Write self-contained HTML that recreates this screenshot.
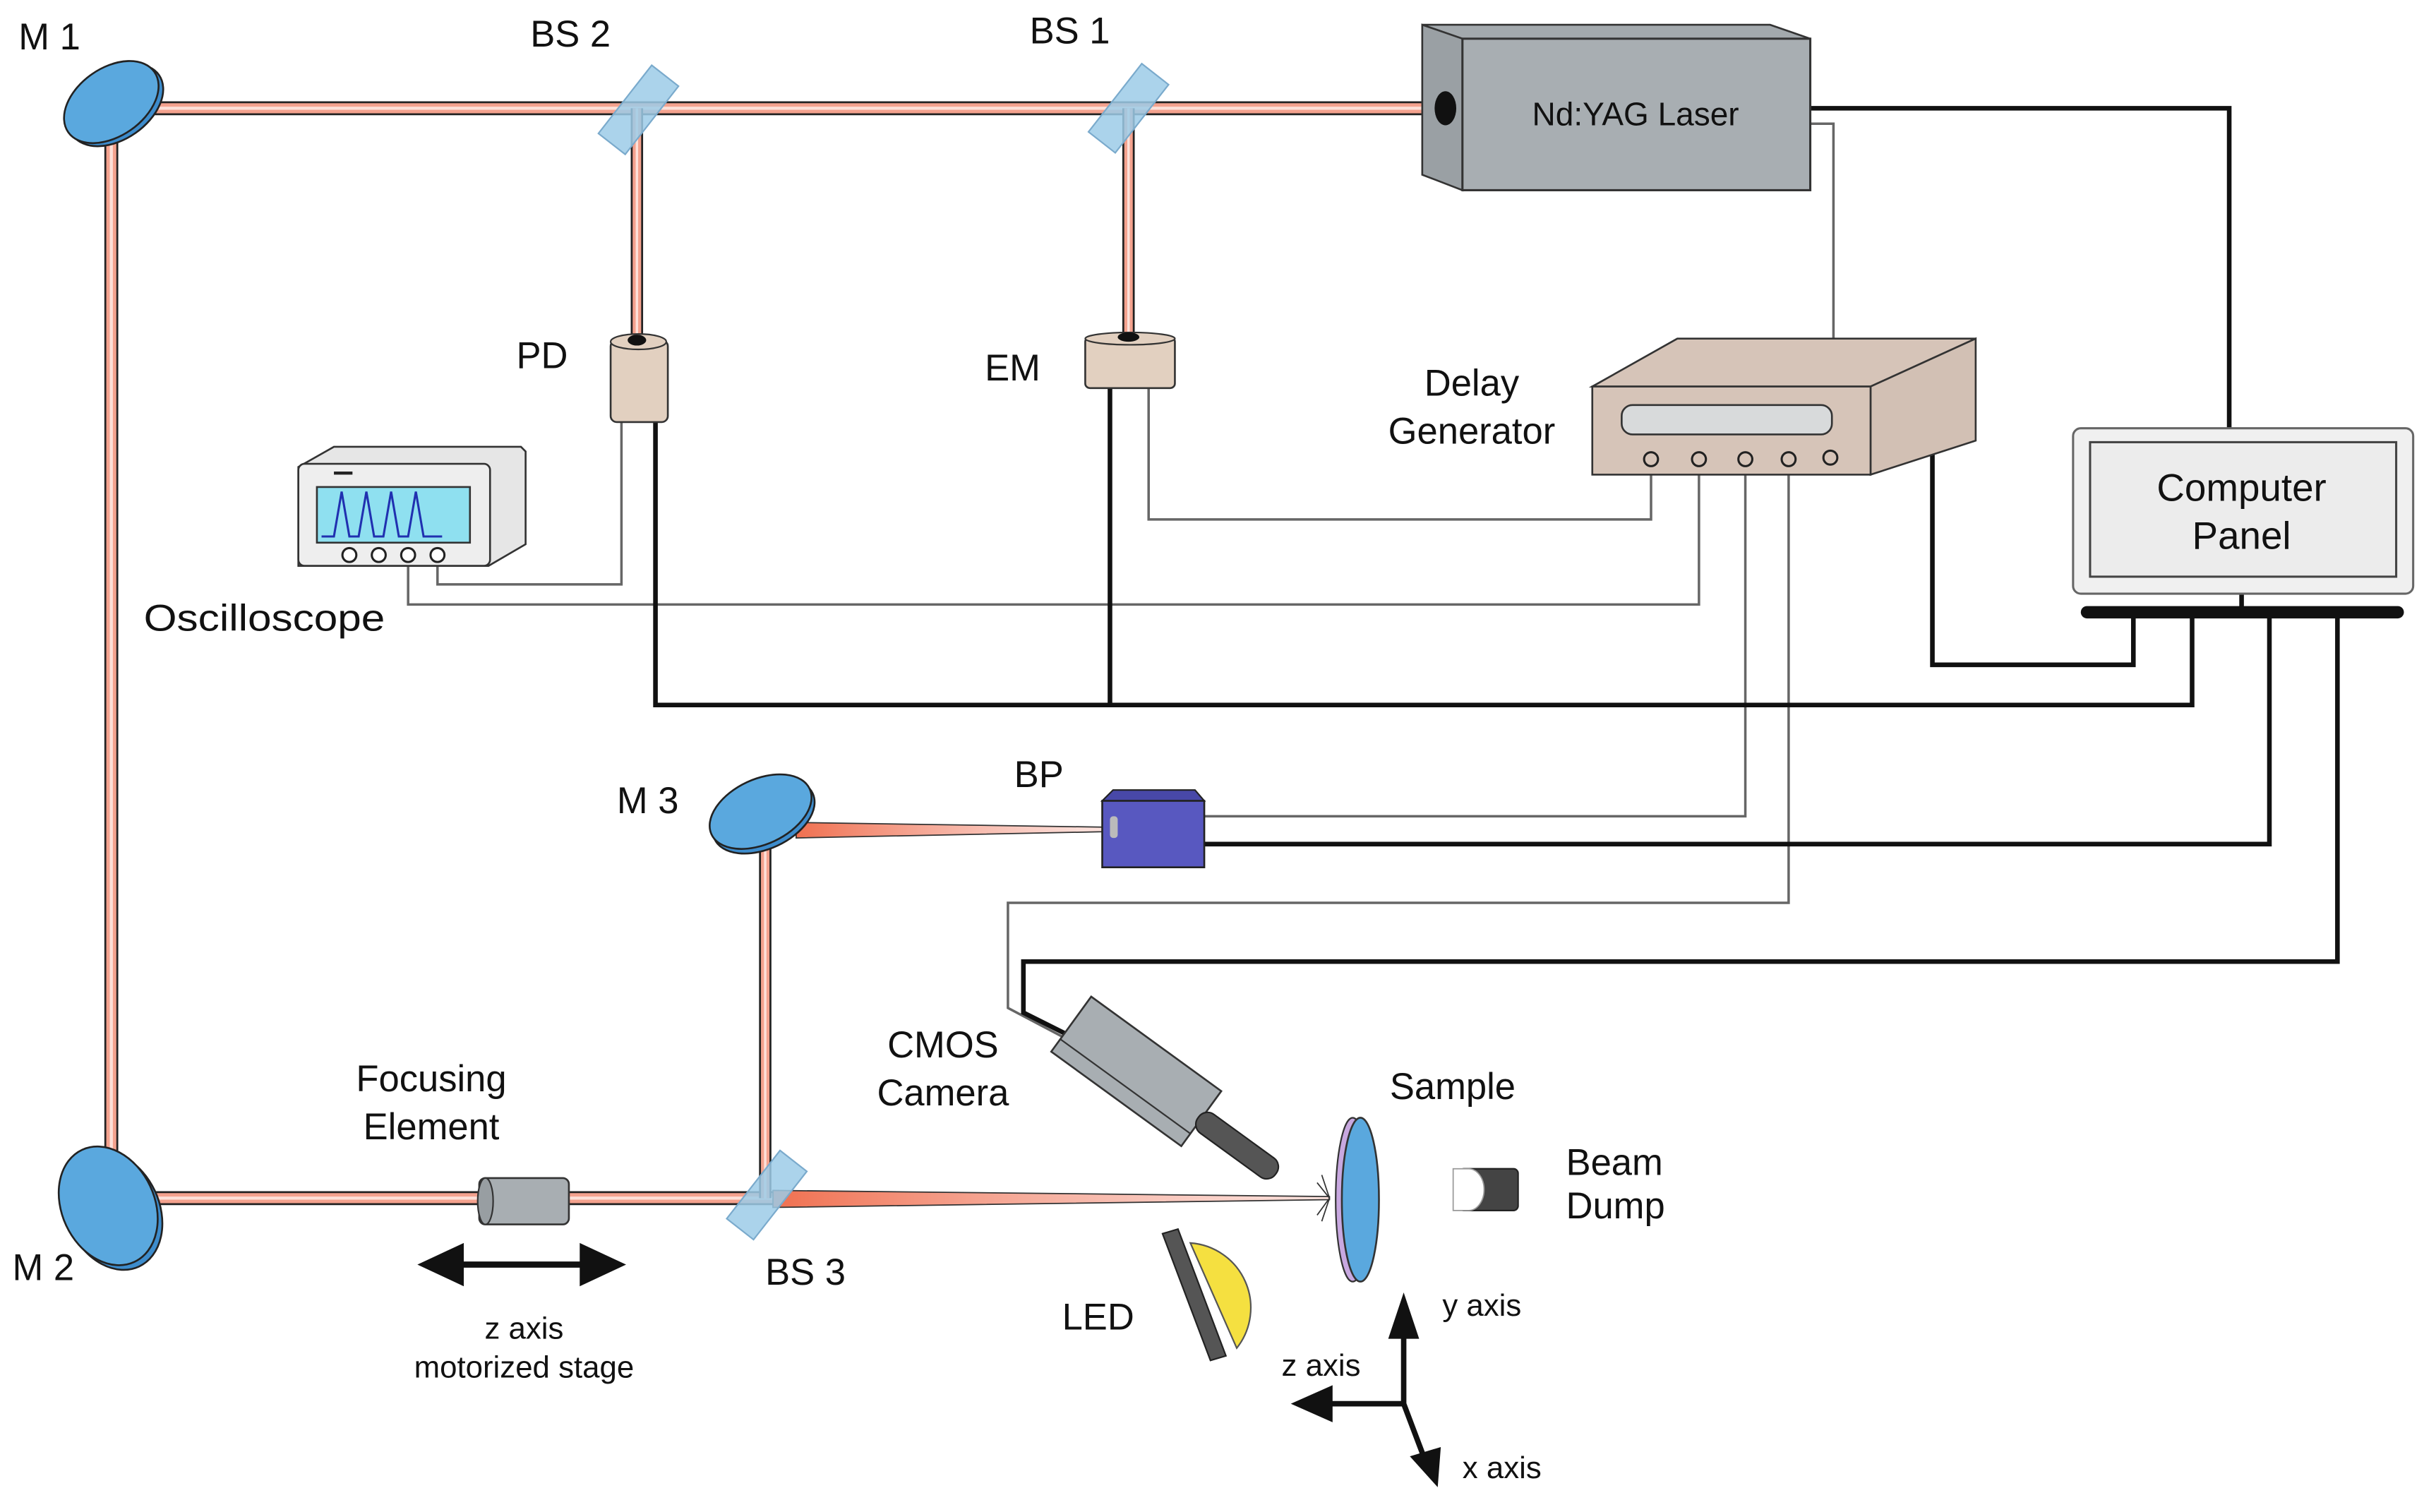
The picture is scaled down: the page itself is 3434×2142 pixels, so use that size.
<!DOCTYPE html>
<html><head><meta charset="utf-8"><style>
html,body{margin:0;padding:0;background:#fff;}
svg{display:block;}
text{font-family:"Liberation Sans",Arial,sans-serif;fill:#111;}
</style></head><body>
<svg width="3434" height="2142" viewBox="0 0 1568 978" xmlns="http://www.w3.org/2000/svg">
<defs>
<linearGradient id="taper" x1="0" x2="1"><stop offset="0" stop-color="#f07050"/><stop offset="1" stop-color="#f4a090" stop-opacity="0.3"/></linearGradient>
</defs>
<g fill="none" stroke="#666" stroke-width="1.6">
<path d="M1171 80 H1186 V297"/>
<path d="M743 250 V336 H1068 V297"/>
<path d="M283 366 V378 H402 V273"/>
<path d="M264 366 V391 H1099 V297"/>
<path d="M1129 297 V528 H779"/>
<path d="M1157 297 V584 H652 V652 L690 672"/>
</g>
<g fill="none" stroke="#111" stroke-width="3">
<path d="M1171 70 H1442 V277"/>
<path d="M1250 288 V430 H1380 V396"/>
<path d="M424 273 V456 H1418 V396"/>
<path d="M718 250 V456"/>
<path d="M779 546 H1468 V396"/>
<path d="M1512 396 V622 H662 V655 L692 670"/>
<path d="M1450 384 V396"/>
</g>
<g fill="none" stroke-linejoin="miter">
<path d="M930 70 H72 V775 H500" stroke="#222" stroke-width="9"/>
<path d="M930 70 H72 V775 H500" stroke="#f4a28e" stroke-width="6.5"/>
<path d="M930 70 H72 V775 H500" stroke="#fde0d8" stroke-width="2"/>
<path d="M412 70 V218 M730 70 V218 M495 540 V775" stroke="#222" stroke-width="8"/>
<path d="M412 70 V218 M730 70 V218 M495 540 V775" stroke="#f4a28e" stroke-width="5.5"/>
<path d="M412 70 V218 M730 70 V218 M495 540 V775" stroke="#fde0d8" stroke-width="1.6"/>
</g>
<polygon points="500,770 860,774 860,776 500,781" fill="url(#taper)" stroke="#333" stroke-width="0.8"/>
<polygon points="515,532 713,535 713,538 515,542" fill="url(#taper)" stroke="#333" stroke-width="0.8"/>
<g stroke="#222" stroke-width="1.2">
<ellipse cx="75" cy="68" rx="34" ry="22" transform="rotate(-35 75 68)" fill="#3d8ccc"/>
<ellipse cx="72" cy="66" rx="34" ry="22" transform="rotate(-35 72 66)" fill="#5aa8de"/>
<ellipse cx="73" cy="783" rx="30" ry="40" transform="rotate(-25 73 783)" fill="#3d8ccc"/>
<ellipse cx="70" cy="780" rx="30" ry="40" transform="rotate(-25 70 780)" fill="#5aa8de"/>
<ellipse cx="494" cy="528" rx="35" ry="21" transform="rotate(-25 494 528)" fill="#3d8ccc"/>
<ellipse cx="492" cy="525" rx="35" ry="21" transform="rotate(-25 492 525)" fill="#5aa8de"/>
</g>
<g fill="#9ccbe8" fill-opacity="0.85" stroke="#7aaacc" stroke-width="1">
<rect x="-11" y="-28" width="22" height="56" transform="translate(413 71) rotate(38)"/>
<rect x="-11" y="-28" width="22" height="56" transform="translate(730 70) rotate(38)"/>
<rect x="-11" y="-28" width="22" height="56" transform="translate(496 773) rotate(38)"/>
</g>
<rect x="395" y="220" width="37" height="53" rx="4" fill="#e2d0c0" stroke="#333" stroke-width="1.2"/>
<ellipse cx="413" cy="221" rx="18" ry="5" fill="#e2d0c0" stroke="#333" stroke-width="1"/>
<ellipse cx="412" cy="220" rx="6" ry="3.5" fill="#111"/>
<rect x="702" y="218" width="58" height="33" rx="3" fill="#e2d0c0" stroke="#333" stroke-width="1.2"/>
<ellipse cx="731" cy="219" rx="29" ry="4" fill="#e2d0c0" stroke="#333" stroke-width="1"/>
<ellipse cx="730" cy="218" rx="7" ry="3" fill="#111"/>
<polygon points="193,302 216,289 337,289 340,292 340,352 316,366 193,366" fill="#e6e6e6" stroke="#333" stroke-width="1.2"/>
<rect x="193" y="300" width="124" height="66" rx="4" fill="#eeeeee" stroke="#333" stroke-width="1.2"/>
<rect x="205" y="315" width="99" height="36" fill="#8fe0f0" stroke="#333" stroke-width="1.2"/>
<rect x="216" y="305" width="12" height="2" fill="#222"/>
<path d="M208 347 L216 347 L221 318 L226 347 L232 347 L237 318 L242 347 L248 347 L253 318 L258 347 L264 347 L269 318 L274 347 L286 347" fill="none" stroke="#2030b0" stroke-width="1.4"/>
<g fill="#fff" stroke="#222" stroke-width="1.4"><circle cx="226" cy="359" r="4.5"/><circle cx="245" cy="359" r="4.5"/><circle cx="264" cy="359" r="4.5"/><circle cx="283" cy="359" r="4.5"/></g>
<polygon points="920,16 1145,16 1171,25 946,25" fill="#a3a9ad" stroke="#333" stroke-width="1.2"/>
<polygon points="920,16 946,25 946,123 920,113" fill="#9aa0a4" stroke="#333" stroke-width="1.2"/>
<rect x="946" y="25" width="225" height="98" fill="#a8aeb2" stroke="#333" stroke-width="1.4"/>
<ellipse cx="935" cy="70" rx="7" ry="11" fill="#111"/>
<text x="1058" y="81" font-size="21" text-anchor="middle">Nd:YAG Laser</text>
<polygon points="1030,250 1085,219 1278,219 1210,250" fill="#d6c4b8" stroke="#333" stroke-width="1.2"/>
<polygon points="1210,250 1278,219 1278,285 1210,307" fill="#d2c0b4" stroke="#333" stroke-width="1.2"/>
<rect x="1030" y="250" width="180" height="57" fill="#d6c4b8" stroke="#333" stroke-width="1.2"/>
<rect x="1049" y="262" width="136" height="19" rx="7" fill="#d8dadb" stroke="#333" stroke-width="1.2"/>
<g fill="none" stroke="#222" stroke-width="1.4"><circle cx="1068" cy="297" r="4.5"/><circle cx="1099" cy="297" r="4.5"/><circle cx="1129" cy="297" r="4.5"/><circle cx="1157" cy="297" r="4.5"/><circle cx="1184" cy="296" r="4.5"/></g>
<rect x="1341" y="277" width="220" height="107" rx="5" fill="#f0f0f0" stroke="#666" stroke-width="1.4"/>
<rect x="1352" y="286" width="198" height="87" fill="#ececec" stroke="#444" stroke-width="1.4"/>
<rect x="1346" y="392" width="209" height="8" rx="4" fill="#111"/>
<text x="1450" y="324" font-size="25" text-anchor="middle">Computer</text>
<text x="1450" y="355" font-size="25" text-anchor="middle">Panel</text>
<polygon points="713,518 720,511 773,511 779,518" fill="#4848a8" stroke="#222" stroke-width="1"/>
<rect x="713" y="518" width="66" height="43" fill="#5858c0" stroke="#222" stroke-width="1.2"/>
<rect x="718" y="528" width="5" height="14" rx="2" fill="#bbb"/>
<rect x="310" y="762" width="58" height="30" rx="4" fill="#a8aeb2" stroke="#333" stroke-width="1.2"/>
<ellipse cx="314" cy="777" rx="5" ry="15" fill="#989ea2" stroke="#333" stroke-width="1"/>
<path d="M290 818 H385" stroke="#111" stroke-width="4"/>
<polygon points="270,818 300,804 300,832" fill="#111"/>
<polygon points="405,818 375,804 375,832" fill="#111"/>
<g transform="translate(735 693) rotate(36)">
<rect x="-52" y="-22" width="104" height="44" fill="#a8aeb2" stroke="#333" stroke-width="1.2"/>
<line x1="-52" y1="12" x2="52" y2="12" stroke="#333" stroke-width="1"/>
<rect x="50" y="-7" width="62" height="15" rx="7" fill="#555" stroke="#222" stroke-width="1"/>
</g>
<ellipse cx="875" cy="776" rx="11" ry="53" fill="#c8a8e0" stroke="#333" stroke-width="1"/>
<ellipse cx="880" cy="776" rx="12" ry="53" fill="#5aa8de" stroke="#333" stroke-width="1.2"/>
<g stroke="#333" stroke-width="0.8"><line x1="860" y1="775" x2="852" y2="765"/><line x1="860" y1="775" x2="852" y2="786"/><line x1="860" y1="775" x2="855" y2="760"/><line x1="860" y1="775" x2="855" y2="790"/></g>
<rect x="944" y="756" width="38" height="27" rx="3" fill="#444" stroke="#222"/>
<path d="M940 756 H950 A10 13.5 0 0 1 950 783 H940 Z" fill="#fff" stroke="#999" stroke-width="0.8"/>
<path d="M770 804 A42 42 0 0 1 800 872 Z" fill="#f5e040" stroke="#555" stroke-width="1"/>
<polygon points="752,798 762,795 793,877 783,880" fill="#555" stroke="#222" stroke-width="1"/>
<g stroke="#111" stroke-width="3.5" fill="none"><path d="M908 858 V908 H856 M908 908 L922 945"/></g>
<polygon points="908,836 898,866 918,866" fill="#111"/>
<polygon points="835,908 862,896 862,920" fill="#111"/>
<polygon points="930,962 912,942 932,936" fill="#111"/>
<g font-size="24">
<text x="12" y="32">M 1</text>
<text x="343" y="30">BS 2</text>
<text x="666" y="28">BS 1</text>
<text x="334" y="238">PD</text>
<text x="637" y="246">EM</text>
<text x="952" y="256" text-anchor="middle">Delay</text>
<text x="952" y="287" text-anchor="middle">Generator</text>
<text x="93" y="408" textLength="156" lengthAdjust="spacingAndGlyphs">Oscilloscope</text>
<text x="399" y="526">M 3</text>
<text x="656" y="509">BP</text>
<text x="610" y="684" text-anchor="middle">CMOS</text>
<text x="610" y="715" text-anchor="middle">Camera</text>
<text x="279" y="706" text-anchor="middle">Focusing</text>
<text x="279" y="737" text-anchor="middle">Element</text>
<text x="899" y="711">Sample</text>
<text x="1013" y="760">Beam</text>
<text x="1013" y="788">Dump</text>
<text x="8" y="828">M 2</text>
<text x="495" y="831">BS 3</text>
<text x="687" y="860">LED</text>
</g>
<g font-size="20">
<text x="339" y="866" text-anchor="middle">z axis</text>
<text x="339" y="891" text-anchor="middle">motorized stage</text>
<text x="933" y="851">y axis</text>
<text x="829" y="890">z axis</text>
<text x="946" y="956">x axis</text>
</g>
</svg>
</body></html>
